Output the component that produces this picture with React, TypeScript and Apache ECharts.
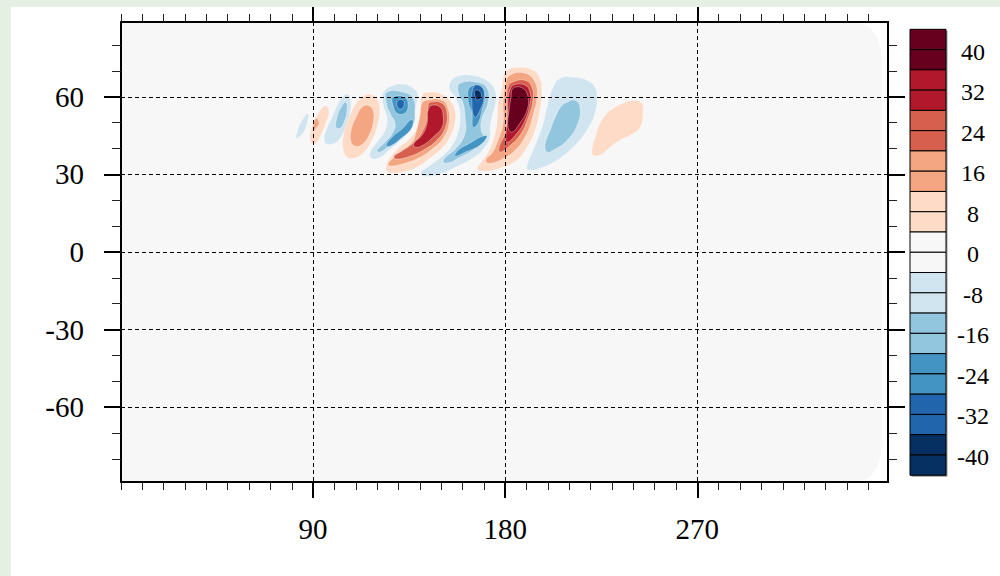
import React, { useEffect, useRef } from "react";
import * as echarts from "echarts";

// ---------- axes ----------
const LON_MIN = 0;
const LON_MAX = 359.3;
const LAT_MIN = -88.9;
const LAT_MAX = 88.9;
const xMajor = [90, 180, 270];
const xMinor = [0, 10, 20, 30, 40, 50, 60, 70, 80, 100, 110, 120, 130, 140, 150, 160, 170, 190, 200, 210, 220, 230, 240, 250, 260, 280, 290, 300, 310, 320, 330, 340, 350];
const yMajor = [-60, -30, 0, 30, 60];
const yMinor = [-80, -70, -50, -40, -20, -10, 10, 20, 40, 50, 70, 80];

// ---------- contour levels / colours ----------
const levelValues = [-36, -28, -20, -12, -4, 4, 12, 20, 28, 36];
const levelColors = ["#053061", "#2166ac", "#4393c3", "#92c5de", "#d1e5f0", "#fddbc7", "#f4a582", "#d6604d", "#b2182b", "#67001f"];

// colour bar (top to bottom), 22 boxes from 44 to -44
const cbColors = ["#67001f", "#67001f", "#b2182b", "#b2182b", "#d6604d", "#d6604d", "#f4a582", "#f4a582", "#fddbc7", "#fddbc7", "#f7f7f7", "#f7f7f7", "#d1e5f0", "#d1e5f0", "#92c5de", "#92c5de", "#4393c3", "#4393c3", "#2166ac", "#2166ac", "#053061", "#053061"];
const cbLabels = ["40", "32", "24", "16", "8", "0", "-8", "-16", "-24", "-32", "-40"];

// ---------- field extent (lon, lat) ----------
const fieldOutline = [[0, 88.9], [344.8, 88.9], [350.9, 86.9], [354.2, 83.0], [356.1, 78.0], [356.5, 71.4], [356.5, -71.6], [356.1, -78.1], [354.2, -83.2], [350.9, -87.0], [344.8, -88.9], [0, -88.9]];

// ---------- contour rings (lon, lat) ----------
const lobeA_m4 = [[87.6, 53.6], [86.7, 48.2], [84.3, 45.1], [82.0, 44.0], [82.5, 46.3], [84.3, 50.2]];

const lobeB_4 = [[96.5, 56.4], [97.4, 53.6], [95.6, 49.0], [93.2, 44.4], [90.9, 41.7], [89.0, 42.1], [88.5, 45.1], [90.0, 49.8], [92.3, 53.6], [94.6, 56.0]];
const lobeB_12 = [[91.4, 51.7], [92.8, 49.8], [91.4, 47.8], [90.4, 47.1], [90.0, 49.0]];

const lobeC_m4 = [[106.3, 61.0], [107.8, 58.3], [107.3, 53.6], [105.4, 48.2], [103.1, 44.4], [100.3, 42.1], [96.5, 41.7], [95.1, 43.6], [96.0, 47.1], [98.9, 52.1], [101.7, 57.5], [104.0, 60.2]];
const lobeC_m12 = [[105.4, 57.9], [105.9, 54.8], [104.5, 50.2], [102.6, 47.8], [100.7, 48.2], [101.2, 52.1], [103.1, 56.0]];

const lobeD_4 = [[116.7, 61.0], [119.9, 59.4], [121.3, 54.8], [119.9, 48.2], [117.1, 42.4], [113.4, 38.2], [109.6, 36.3], [105.9, 36.6], [104.0, 40.1], [104.0, 44.4], [106.3, 50.9], [110.1, 57.5], [113.4, 60.2]];
const lobeD_12 = [[115.7, 56.7], [118.1, 54.8], [118.1, 49.8], [115.7, 44.4], [112.4, 41.3], [109.6, 40.9], [107.8, 42.4], [107.8, 47.1], [110.1, 52.1], [112.9, 56.0]];

const lobeE_m4 = [[122.3, 59.8], [123.2, 55.6], [124.6, 51.3], [123.7, 47.1], [119.9, 42.4], [116.7, 38.6], [117.1, 36.3], [120.9, 36.3], [126.0, 39.7], [130.7, 42.8], [134.5, 46.3], [136.8, 50.9], [138.2, 56.7], [139.1, 61.0], [136.3, 63.7], [131.6, 64.9], [126.5, 64.1], [123.2, 62.1]];
const lobeE_m12 = [[124.6, 61.8], [132.1, 61.8], [136.8, 59.4], [137.7, 53.6], [136.8, 49.0], [132.1, 44.8], [126.0, 41.3], [121.3, 38.6], [119.9, 39.3], [123.7, 42.4], [127.4, 46.3], [128.4, 49.8], [126.0, 53.6], [124.2, 57.9]];
const lobeE_m20a = [[127.4, 59.8], [133.0, 59.8], [134.5, 56.7], [133.0, 53.6], [129.3, 53.6], [127.4, 56.7]];
const lobeE_m20b = [[136.8, 50.9], [135.9, 47.5], [131.2, 43.9], [126.0, 40.9], [124.2, 41.3], [127.0, 44.4], [132.1, 47.9], [135.4, 50.9]];
const lobeE_m28 = [[129.8, 58.7], [132.1, 58.7], [132.6, 56.7], [131.2, 55.2], [129.3, 56.4]];

const lobeF_4 = [[141.0, 60.6], [144.8, 61.8], [150.4, 61.0], [154.1, 58.7], [156.5, 54.8], [156.5, 50.2], [154.1, 44.4], [150.4, 40.1], [144.8, 36.3], [138.7, 32.8], [131.2, 30.8], [125.1, 30.8], [124.2, 33.2], [126.0, 36.3], [129.8, 40.1], [135.4, 44.0], [138.7, 48.2], [140.1, 54.8]];
const lobeF_12 = [[143.4, 58.7], [150.4, 58.7], [153.2, 55.6], [153.7, 49.8], [150.9, 44.0], [146.2, 40.1], [140.1, 36.6], [133.0, 34.3], [126.5, 33.2], [125.1, 33.9], [126.5, 35.5], [131.2, 39.0], [136.3, 42.4], [138.2, 46.3], [140.1, 52.9], [141.0, 57.5]];
const lobeF_20 = [[144.8, 57.9], [150.4, 57.5], [152.7, 53.6], [151.8, 47.8], [148.0, 43.2], [141.5, 39.3], [135.4, 37.0], [128.8, 35.9], [127.9, 37.0], [131.6, 39.0], [137.3, 42.4], [141.5, 47.1], [143.4, 52.1], [143.8, 56.4]];
const lobeF_28 = [[145.7, 56.7], [149.5, 56.0], [150.9, 52.9], [150.4, 48.2], [146.2, 44.4], [141.5, 41.3], [137.7, 40.5], [137.3, 42.1], [141.0, 45.1], [143.4, 49.8], [143.8, 54.8]];

const lobeG_m4 = [[154.1, 65.6], [158.8, 68.3], [166.8, 67.9], [171.9, 66.0], [174.8, 63.3], [175.7, 58.7], [173.8, 52.1], [172.9, 47.8], [172.9, 44.4], [170.1, 40.1], [165.4, 36.6], [157.9, 33.2], [149.5, 30.1], [142.0, 29.3], [140.6, 30.8], [144.8, 33.5], [150.9, 37.4], [155.1, 41.3], [157.4, 45.1], [158.8, 50.9], [158.4, 55.6], [156.5, 59.8], [154.1, 62.5]];
const lobeG_m12 = [[158.8, 65.2], [166.8, 65.6], [171.5, 63.3], [171.9, 57.5], [169.1, 51.7], [168.7, 47.1], [170.1, 44.0], [166.8, 40.5], [158.8, 36.6], [152.7, 34.3], [150.9, 35.5], [157.4, 40.5], [161.2, 45.9], [161.2, 52.1], [160.2, 57.5], [157.9, 61.8]];
const lobeG_m20a = [[163.5, 63.7], [169.1, 63.7], [170.5, 59.8], [169.1, 54.8], [167.3, 49.8], [164.9, 48.2], [164.4, 53.6], [162.6, 58.7]];
const lobeG_m20b = [[171.5, 44.8], [168.2, 41.3], [161.2, 38.6], [156.5, 37.0], [157.9, 39.3], [163.5, 42.1], [168.2, 44.4]];
const lobeG_m28 = [[165.4, 64.1], [169.1, 63.7], [170.1, 59.8], [168.2, 54.8], [165.8, 52.1], [164.4, 56.7]];
const lobeG_m36 = [[165.8, 62.5], [168.2, 62.1], [168.7, 59.8], [166.8, 58.7], [165.8, 60.2]];

const lobeH_4 = [[180.8, 70.3], [186.9, 71.4], [193.0, 70.3], [196.3, 67.2], [197.2, 61.4], [196.3, 54.8], [194.0, 47.1], [190.2, 40.5], [185.5, 35.5], [177.6, 32.4], [169.6, 31.2], [166.8, 32.4], [168.7, 34.7], [171.9, 38.6], [174.3, 43.2], [176.1, 49.8], [176.6, 57.5], [178.5, 63.7], [179.0, 67.6]];
const lobeH_12 = [[182.2, 68.3], [189.3, 69.1], [194.0, 65.6], [194.9, 59.8], [193.0, 52.9], [190.2, 45.9], [184.6, 39.3], [177.6, 35.5], [171.9, 34.3], [171.0, 35.9], [173.8, 38.2], [176.6, 43.2], [179.0, 49.8], [179.0, 57.5], [179.9, 63.7]];
const lobeH_20 = [[183.2, 65.6], [189.3, 66.4], [192.5, 63.7], [193.0, 58.7], [190.7, 51.7], [186.9, 45.1], [181.3, 40.5], [177.6, 38.6], [177.1, 40.5], [179.9, 45.9], [180.8, 52.1], [180.8, 59.8], [181.3, 63.7]];
const lobeH_28 = [[183.7, 64.5], [189.3, 64.5], [191.6, 61.8], [191.6, 57.5], [189.3, 50.9], [185.5, 45.9], [180.8, 42.4], [180.4, 45.9], [181.3, 52.1], [181.3, 58.7], [182.2, 62.5]];
const lobeH_36 = [[183.7, 63.3], [188.3, 63.3], [190.7, 59.8], [190.2, 54.8], [186.9, 49.8], [183.2, 46.3], [181.3, 48.2], [181.8, 54.8], [182.7, 59.8]];

const lobeI_m4 = [[205.7, 67.2], [211.8, 67.6], [218.3, 66.4], [222.1, 63.7], [223.0, 59.8], [222.1, 53.6], [218.3, 47.1], [211.8, 40.5], [204.3, 35.5], [196.3, 32.4], [190.7, 31.6], [190.2, 33.5], [193.0, 39.3], [197.2, 48.2], [200.0, 57.5], [202.4, 63.7]];
const lobeI_m12 = [[209.0, 57.9], [212.7, 58.7], [215.0, 56.0], [214.1, 49.8], [209.0, 43.2], [202.4, 39.3], [199.6, 38.6], [198.6, 41.3], [201.0, 47.1], [204.3, 53.6], [206.6, 56.7]];

const lobeJ_4 = [[235.2, 57.5], [239.9, 58.7], [244.1, 57.5], [244.6, 53.6], [243.2, 48.2], [238.5, 45.1], [233.8, 43.2], [229.1, 40.5], [224.4, 37.4], [221.1, 37.4], [220.7, 40.1], [222.1, 44.4], [224.4, 49.8], [227.7, 53.6], [231.4, 56.0]];

const contourRings = [
  { level: -4, pts: lobeA_m4 },
  { level: 4, pts: lobeB_4 },
  { level: 12, pts: lobeB_12 },
  { level: -4, pts: lobeC_m4 },
  { level: -12, pts: lobeC_m12 },
  { level: 4, pts: lobeD_4 },
  { level: 12, pts: lobeD_12 },
  { level: -4, pts: lobeE_m4 },
  { level: -12, pts: lobeE_m12 },
  { level: -20, pts: lobeE_m20a },
  { level: -20, pts: lobeE_m20b },
  { level: -28, pts: lobeE_m28 },
  { level: 4, pts: lobeF_4 },
  { level: 12, pts: lobeF_12 },
  { level: 20, pts: lobeF_20 },
  { level: 28, pts: lobeF_28 },
  { level: -4, pts: lobeG_m4 },
  { level: -12, pts: lobeG_m12 },
  { level: -20, pts: lobeG_m20a },
  { level: -20, pts: lobeG_m20b },
  { level: -28, pts: lobeG_m28 },
  { level: -36, pts: lobeG_m36 },
  { level: 4, pts: lobeH_4 },
  { level: 12, pts: lobeH_12 },
  { level: 20, pts: lobeH_20 },
  { level: 28, pts: lobeH_28 },
  { level: 36, pts: lobeH_36 },
  { level: -4, pts: lobeI_m4 },
  { level: -12, pts: lobeI_m12 },
  { level: 4, pts: lobeJ_4 },
];

const SERIF = '"Liberation Serif", "Times New Roman", serif';

function colorOf(level: number): string {
  const i = levelValues.indexOf(level);
  return i >= 0 ? levelColors[i] : "#f7f7f7";
}

export default function App() {
  const ref = useRef<HTMLDivElement>(null);

  useEffect(() => {
    if (!ref.current) return;
    const chart = echarts.init(ref.current, null, { renderer: "svg" });

    const rings = [...contourRings].sort((a, b) => Math.abs(a.level) - Math.abs(b.level));

    const majorTickStyle = { color: "#000", width: 2 };
    const minorTickStyle = { color: "#222", width: 1 };
    const axisLine = { show: true, onZero: false, lineStyle: { color: "#000", width: 2 } };
    const noLine = { show: false, onZero: false };
    const labelStyle = { color: "#000", fontFamily: SERIF, fontSize: 29 };
    const dashed = { show: true, lineStyle: { color: "#000", width: 1, type: [4, 3] } };

    const cbTop = 29.3;
    const cbStep = 20.27;
    const cbLeft = 910;
    const cbW = 36;

    const graphics: any[] = [];
    graphics.push({
      type: "rect",
      shape: { x: cbLeft + 1.5, y: cbTop + 1.5, width: cbW, height: cbStep * cbColors.length },
      style: { fill: "#9a9a9a" },
      silent: true,
    });
    cbColors.forEach((c, i) => {
      graphics.push({
        type: "rect",
        shape: { x: cbLeft, y: cbTop + i * cbStep, width: cbW, height: cbStep },
        style: { fill: c, stroke: "#000", lineWidth: 1 },
        silent: true,
      });
    });
    cbLabels.forEach((t, k) => {
      graphics.push({
        type: "text",
        x: 973,
        y: cbTop + (2 * k + 1) * cbStep + 2,
        style: {
          text: t,
          fill: "#000",
          fontFamily: SERIF,
          fontSize: 24,
          align: "center",
          verticalAlign: "middle",
        },
        silent: true,
      });
    });

    const option: any = {
      animation: false,
      backgroundColor: "transparent",
      grid: [
        { left: 121, top: 22, right: 112, bottom: 94 },
        { left: 121, top: 22, right: 112, bottom: 94 },
      ],
      xAxis: [
        {
          type: "value", gridIndex: 0, position: "bottom", min: LON_MIN, max: LON_MAX,
          axisLine,
          axisTick: { show: true, inside: false, length: 16, customValues: xMajor, lineStyle: majorTickStyle },
          axisLabel: { show: true, customValues: xMajor, margin: 32, ...labelStyle },
          splitLine: dashed,
        },
        {
          type: "value", gridIndex: 0, position: "top", min: LON_MIN, max: LON_MAX,
          axisLine,
          axisTick: { show: true, inside: false, length: 15, customValues: xMajor, lineStyle: majorTickStyle },
          axisLabel: { show: false },
          splitLine: { show: false },
        },
        {
          type: "value", gridIndex: 1, position: "bottom", min: LON_MIN, max: LON_MAX,
          axisLine: noLine,
          axisTick: { show: true, inside: false, length: 8, customValues: xMinor, lineStyle: minorTickStyle },
          axisLabel: { show: false },
          splitLine: { show: false },
        },
        {
          type: "value", gridIndex: 1, position: "top", min: LON_MIN, max: LON_MAX,
          axisLine: noLine,
          axisTick: { show: true, inside: false, length: 8, customValues: xMinor, lineStyle: minorTickStyle },
          axisLabel: { show: false },
          splitLine: { show: false },
        },
      ],
      yAxis: [
        {
          type: "value", gridIndex: 0, position: "left", min: LAT_MIN, max: LAT_MAX,
          axisLine,
          axisTick: { show: true, inside: false, length: 17, customValues: yMajor, lineStyle: majorTickStyle },
          axisLabel: { show: true, customValues: yMajor, margin: 37, ...labelStyle },
          splitLine: dashed,
        },
        {
          type: "value", gridIndex: 0, position: "right", min: LAT_MIN, max: LAT_MAX,
          axisLine,
          axisTick: { show: true, inside: false, length: 17, customValues: yMajor, lineStyle: majorTickStyle },
          axisLabel: { show: false },
          splitLine: { show: false },
        },
        {
          type: "value", gridIndex: 1, position: "left", min: LAT_MIN, max: LAT_MAX,
          axisLine: noLine,
          axisTick: { show: true, inside: false, length: 9, customValues: yMinor, lineStyle: minorTickStyle },
          axisLabel: { show: false },
          splitLine: { show: false },
        },
        {
          type: "value", gridIndex: 1, position: "right", min: LAT_MIN, max: LAT_MAX,
          axisLine: noLine,
          axisTick: { show: true, inside: false, length: 9, customValues: yMinor, lineStyle: minorTickStyle },
          axisLabel: { show: false },
          splitLine: { show: false },
        },
      ],
      series: [
        {
          type: "custom",
          name: "field",
          xAxisIndex: 0,
          yAxisIndex: 0,
          z: -3,
          silent: true,
          data: [[fieldOutline[0][0], fieldOutline[0][1]]],
          renderItem: (_p: any, api: any) => ({
            type: "polygon",
            shape: { points: fieldOutline.map((p) => api.coord(p)) },
            style: { fill: "#f7f7f7" },
          }),
        },
        {
          type: "custom",
          name: "contours",
          xAxisIndex: 0,
          yAxisIndex: 0,
          z: -2,
          silent: true,
          data: rings.map((r) => [r.pts[0][0], r.pts[0][1]]),
          renderItem: (params: any, api: any) => {
            const ring = rings[params.dataIndex];
            return {
              type: "polygon",
              shape: { points: ring.pts.map((p) => api.coord(p)), smooth: 0.45 },
              style: { fill: colorOf(ring.level), stroke: "rgba(255,255,255,0.5)", lineWidth: 0.7 },
            };
          },
        },
      ],
      graphic: graphics,
    };

    chart.setOption(option);
    return () => chart.dispose();
  }, []);

  return (
    <div style={{ position: "absolute", left: 0, top: 0, width: 1000, height: 576, background: "#e6efe3", overflow: "hidden" }}>
      <div style={{ position: "absolute", left: 11, top: 7, right: 0, bottom: 0, background: "#ffffff" }} />
      <div ref={ref} style={{ position: "absolute", left: 0, top: 0, width: 1000, height: 576 }} />
    </div>
  );
}
